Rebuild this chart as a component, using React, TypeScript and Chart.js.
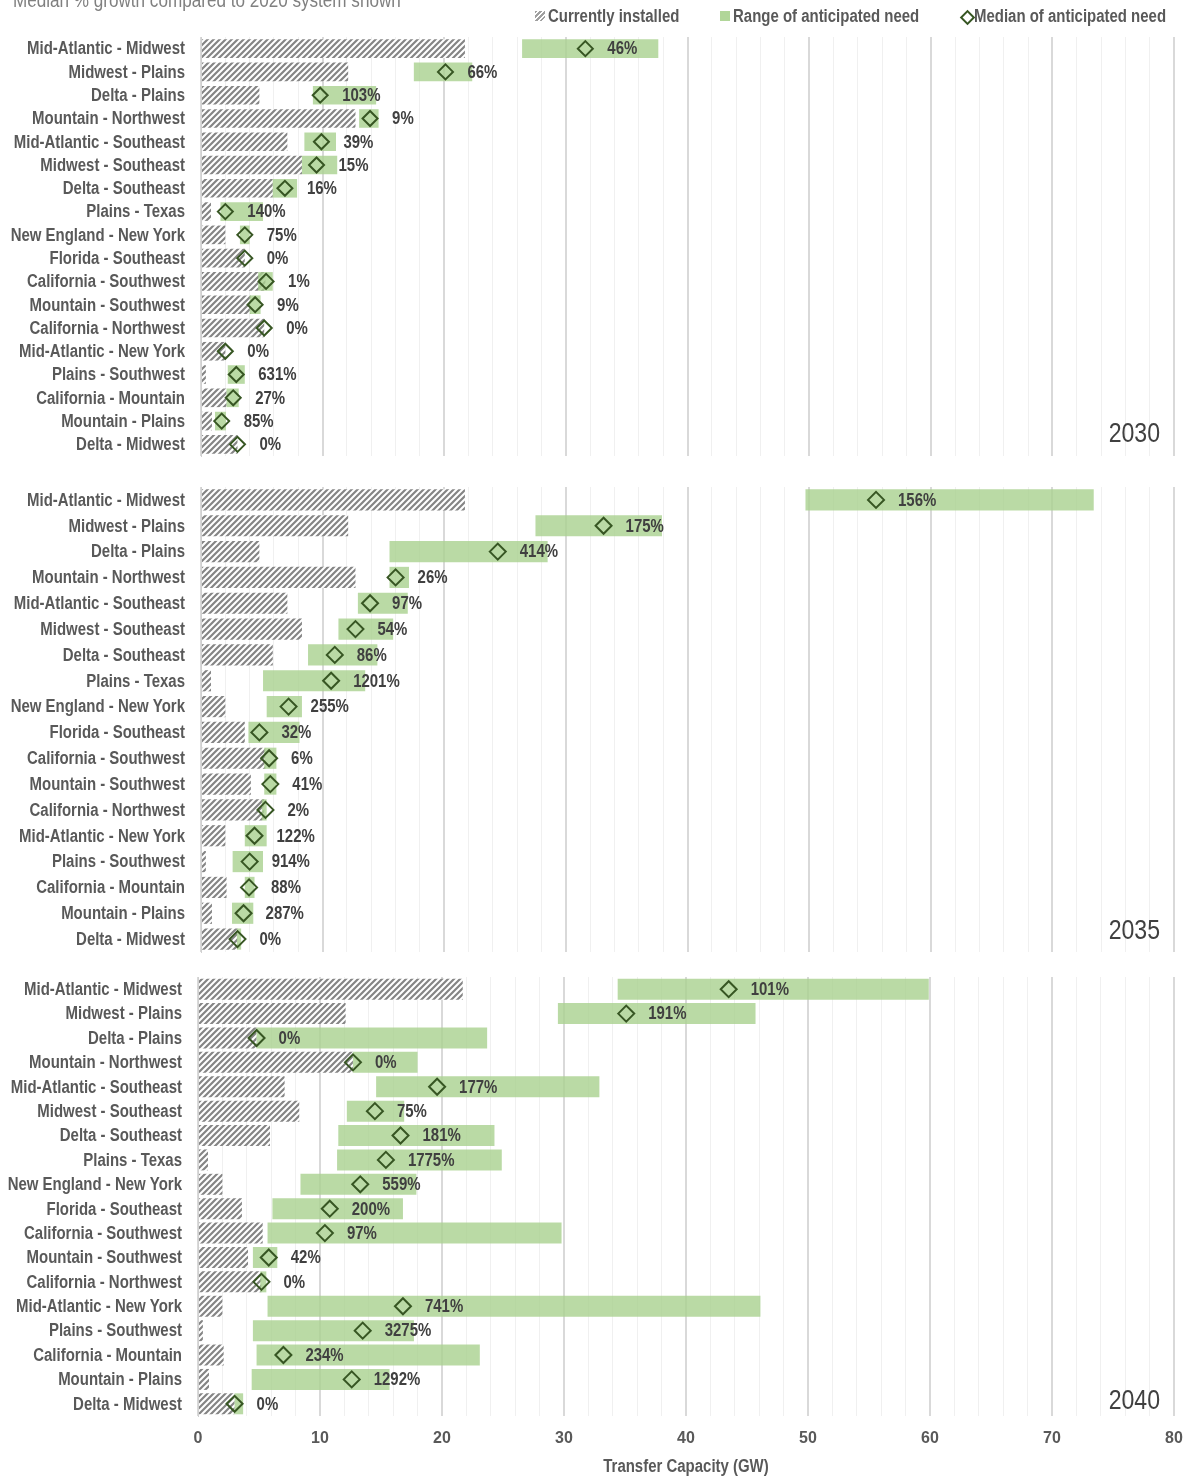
import React, { useEffect, useRef } from "react";
import { Chart, registerables } from "chart.js";
Chart.register(...registerables);

const FONT = '"Liberation Sans", Arial, sans-serif';
const NARROW = 0.855;

const categories = [
  "Mid-Atlantic - Midwest", "Midwest - Plains", "Delta - Plains", "Mountain - Northwest",
  "Mid-Atlantic - Southeast", "Midwest - Southeast", "Delta - Southeast", "Plains - Texas",
  "New England - New York", "Florida - Southeast", "California - Southwest", "Mountain - Southwest",
  "California - Northwest", "Mid-Atlantic - New York", "Plains - Southwest", "California - Mountain",
  "Mountain - Plains", "Delta - Midwest",
];

const installed = [21.7, 12.1, 4.8, 12.7, 7.1, 8.3, 5.9, 0.82, 2.0, 3.6, 5.3, 4.1, 5.2, 2.0, 0.4, 2.1, 0.9, 3.0];

const low2030 = [26.4, 17.5, 9.2, 13.0, 8.5, 8.3, 5.9, 1.6, 3.2, 3.6, 4.7, 4.0, 5.2, 2.0, 2.2, 2.1, 1.15, 3.0];
const high2030 = [37.6, 22.3, 14.4, 14.6, 11.1, 11.2, 7.9, 5.1, 4.0, 3.6, 5.9, 4.9, 5.2, 2.0, 3.6, 3.1, 2.05, 3.0];
const median2030 = [31.6, 20.1, 9.8, 13.9, 9.9, 9.5, 6.9, 2.0, 3.6, 3.6, 5.35, 4.45, 5.2, 2.0, 2.9, 2.65, 1.7, 3.0];
const growth2030 = ["46%", "66%", "103%", "9%", "39%", "15%", "16%", "140%", "75%", "0%", "1%", "9%", "0%", "0%", "631%", "27%", "85%", "0%"];

const low2035 = [49.7, 27.5, 15.5, 15.5, 12.9, 11.3, 8.8, 5.1, 5.4, 3.9, 5.2, 5.2, 5.0, 3.6, 2.6, 3.6, 2.55, 2.95];
const high2035 = [73.4, 37.9, 28.5, 17.1, 17.0, 15.8, 14.5, 13.5, 8.3, 8.1, 6.2, 6.2, 5.4, 5.4, 5.1, 4.4, 4.3, 3.3];
const median2035 = [55.5, 33.1, 24.4, 16.0, 13.9, 12.7, 11.0, 10.7, 7.2, 4.8, 5.6, 5.7, 5.3, 4.4, 4.0, 3.95, 3.5, 3.0];
const growth2035 = ["156%", "175%", "414%", "26%", "97%", "54%", "86%", "1201%", "255%", "32%", "6%", "41%", "2%", "122%", "914%", "88%", "287%", "0%"];

const low2040 = [34.4, 29.5, 4.8, 12.7, 14.6, 12.2, 11.5, 11.4, 8.4, 6.1, 5.7, 4.5, 5.1, 5.7, 4.5, 4.8, 4.4, 3.0];
const high2040 = [59.9, 45.7, 23.7, 18.0, 32.9, 16.9, 24.3, 24.9, 17.9, 16.8, 29.8, 6.5, 5.6, 46.1, 17.7, 23.1, 15.7, 3.7];
const median2040 = [43.5, 35.1, 4.8, 12.7, 19.6, 14.5, 16.6, 15.4, 13.3, 10.8, 10.4, 5.8, 5.2, 16.8, 13.5, 7.0, 12.6, 3.0];
const growth2040 = ["101%", "191%", "0%", "0%", "177%", "75%", "181%", "1775%", "559%", "200%", "97%", "42%", "0%", "741%", "3275%", "234%", "1292%", "0%"];

const xMin = 0;
const xMax = 80;
const xStep = 2;
const xTitle = "Transfer Capacity (GW)";

function makeHatch(ctx: CanvasRenderingContext2D): CanvasPattern | string {
  const c = document.createElement("canvas");
  c.width = 6;
  c.height = 6;
  const g = c.getContext("2d");
  if (!g) return "#999";
  g.fillStyle = "#ffffff";
  g.fillRect(0, 0, 6, 6);
  g.strokeStyle = "#858585";
  g.lineWidth = 2.2;
  g.beginPath();
  g.moveTo(-1, 7); g.lineTo(7, -1);
  g.moveTo(-4, 4); g.lineTo(4, -4);
  g.moveTo(2, 10); g.lineTo(10, 2);
  g.stroke();
  return ctx.createPattern(c, "repeat") || "#999";
}

function narrowText(
  ctx: CanvasRenderingContext2D, text: string, x: number, y: number,
  font: string, color: string, align: CanvasTextAlign, baseline: CanvasTextBaseline,
) {
  ctx.save();
  ctx.font = font;
  ctx.fillStyle = color;
  ctx.textAlign = align;
  ctx.textBaseline = baseline;
  ctx.translate(x, y);
  ctx.scale(NARROW, 1);
  ctx.fillText(text, 0, 0);
  ctx.restore();
}

type PanelProps = {
  year: string;
  low: number[];
  high: number[];
  median: number[];
  growth: string[];
  areaTop: number;
  areaBottom: number;
  left: number;
  barPct: number;
  radius: number;
  yearOffset: number;
  showAxis: boolean;
};

function Panel(p: PanelProps) {
  const ref = useRef<HTMLCanvasElement>(null);
  const pad = 30;
  const canvasTop = p.areaTop - pad;
  const canvasBottom = p.showAxis ? 1477 : p.areaBottom + pad;
  const h = canvasBottom - canvasTop;

  useEffect(() => {
    const canvas = ref.current;
    if (!canvas) return;
    const ctx0 = canvas.getContext("2d") as CanvasRenderingContext2D;
    const hatch = makeHatch(ctx0);
    const textPlugin = {
      id: "narrowTexts",
      afterDatasetsDraw(chart: any) {
        const ctx = chart.ctx as CanvasRenderingContext2D;
        const area = chart.chartArea;
        const yScale = chart.scales.y;
        const labelFont = `bold 17.5px ${FONT}`;
        categories.forEach((c, i) => {
          narrowText(ctx, c, area.left - 16, yScale.getPixelForTick(i) + 1, labelFont, "#595959", "right", "middle");
        });
        const meta = chart.getDatasetMeta(2);
        meta.data.forEach((pt: any, i: number) => {
          narrowText(ctx, p.growth[i], pt.x + 22, pt.y + 1, labelFont, "#404040", "left", "middle");
        });
        narrowText(ctx, p.year, area.right - 14, area.bottom - p.yearOffset, `27px ${FONT}`, "#404040", "right", "alphabetic");
        if (p.showAxis) {
          narrowText(ctx, xTitle, (area.left + area.right) / 2, area.bottom + 51, labelFont, "#595959", "center", "middle");
        }
      },
    };
    const chart = new Chart(canvas, {
      type: "bar",
      data: {
        labels: categories,
        datasets: [
          {
            type: "bar",
            label: "Currently installed",
            data: installed,
            backgroundColor: hatch as any,
            borderWidth: 0,
            barPercentage: p.barPct,
            categoryPercentage: 1,
            grouped: false,
            order: 3,
          } as any,
          {
            type: "bar",
            label: "Range of anticipated need",
            data: p.low.map((l, i) => [l, p.high[i]]),
            backgroundColor: "rgba(169,209,142,0.8)",
            borderWidth: 0,
            barPercentage: p.barPct,
            categoryPercentage: 1,
            grouped: false,
            order: 2,
          } as any,
          {
            type: "line",
            label: "Median of anticipated need",
            data: p.median,
            indexAxis: "y",
            showLine: false,
            pointStyle: "rectRot",
            pointRadius: p.radius,
            pointBorderWidth: 2,
            pointBorderColor: "#375623",
            pointBackgroundColor: "rgba(0,0,0,0)",
            order: 1,
          } as any,
        ],
      },
      options: {
        indexAxis: "y",
        animation: false,
        responsive: false,
        maintainAspectRatio: false,
        devicePixelRatio: 1,
        layout: { padding: { top: pad, bottom: p.showAxis ? 0 : pad, left: 0, right: 14 } },
        plugins: { legend: { display: false }, tooltip: { enabled: false } },
        scales: {
          x: {
            type: "linear",
            min: xMin,
            max: xMax,
            position: "bottom",
            ticks: {
              stepSize: xStep,
              autoSkip: false,
              maxRotation: 0,
              display: p.showAxis,
              color: "#595959",
              padding: 13,
              font: { family: FONT, size: 16, weight: "bold" },
              callback: (v: any) => (Number(v) % 10 === 0 ? String(v) : ""),
            },
            grid: {
              drawTicks: false,
              color: (c: any) => (c.tick && c.tick.value % 10 === 0 ? "#d9d9d9" : "#f0f0f0"),
              lineWidth: (c: any) => (c.tick && c.tick.value % 10 === 0 ? 2 : 1),
            },
            border: { display: false },
            title: { display: false },
            afterFit: (s: any) => {
              if (p.showAxis) s.height = 61;
              s.paddingLeft = 0;
              s.paddingRight = 0;
            },
          } as any,
          y: {
            type: "category",
            offset: true,
            grid: { display: false, drawTicks: false },
            border: { display: true, color: "#d0d0d0", width: 1 },
            ticks: { display: false, autoSkip: false },
            afterFit: (s: any) => { s.width = p.left; },
          } as any,
        },
      },
      plugins: [textPlugin],
    } as any);
    return () => chart.destroy();
  }, []);

  return (
    <canvas
      ref={ref}
      width={1188}
      height={h}
      style={{ position: "absolute", left: 0, top: canvasTop, width: 1188, height: h }}
    />
  );
}

const legendText: React.CSSProperties = {
  position: "absolute",
  top: 7,
  fontFamily: FONT,
  fontWeight: "bold",
  fontSize: 17.5,
  lineHeight: "18px",
  color: "#595959",
  whiteSpace: "nowrap",
  transform: `scaleX(${NARROW})`,
  transformOrigin: "0 0",
};

export default function App() {
  return (
    <div style={{ position: "absolute", left: 0, top: 0, width: 1188, height: 1477, overflow: "hidden", background: "#fff" }}>
      <Panel year="2030" low={low2030} high={high2030} median={median2030} growth={growth2030}
        areaTop={37} areaBottom={456} left={201} barPct={0.8} radius={7.5} yearOffset={14} showAxis={false} />
      <Panel year="2035" low={low2035} high={high2035} median={median2035} growth={growth2035}
        areaTop={487} areaBottom={952} left={201} barPct={0.82} radius={8} yearOffset={13} showAxis={false} />
      <Panel year="2040" low={low2040} high={high2040} median={median2040} growth={growth2040}
        areaTop={977} areaBottom={1416} left={198} barPct={0.86} radius={8} yearOffset={7} showAxis={true} />
      <div style={{ position: "absolute", left: 13, top: -10, fontFamily: FONT, fontSize: 20, lineHeight: "20px", color: "#808080", whiteSpace: "nowrap", transform: `scaleX(${NARROW})`, transformOrigin: "0 0" }}>
        Median % growth compared to 2020 system shown
      </div>
      <div style={{ position: "absolute", left: 535, top: 11, width: 10, height: 10,
        background: "repeating-linear-gradient(135deg, #a0a0a0 0px, #a0a0a0 1.5px, #ffffff 1.5px, #ffffff 3.5px)" }} />
      <div style={{ ...legendText, left: 548 }}>Currently installed</div>
      <div style={{ position: "absolute", left: 720, top: 11, width: 10, height: 10, background: "rgba(169,209,142,0.9)" }} />
      <div style={{ ...legendText, left: 733 }}>Range of anticipated need</div>
      <div style={{ position: "absolute", left: 962, top: 12, width: 7, height: 7, border: "2px solid #375623", transform: "rotate(45deg)" }} />
      <div style={{ ...legendText, left: 974 }}>Median of anticipated need</div>
    </div>
  );
}
